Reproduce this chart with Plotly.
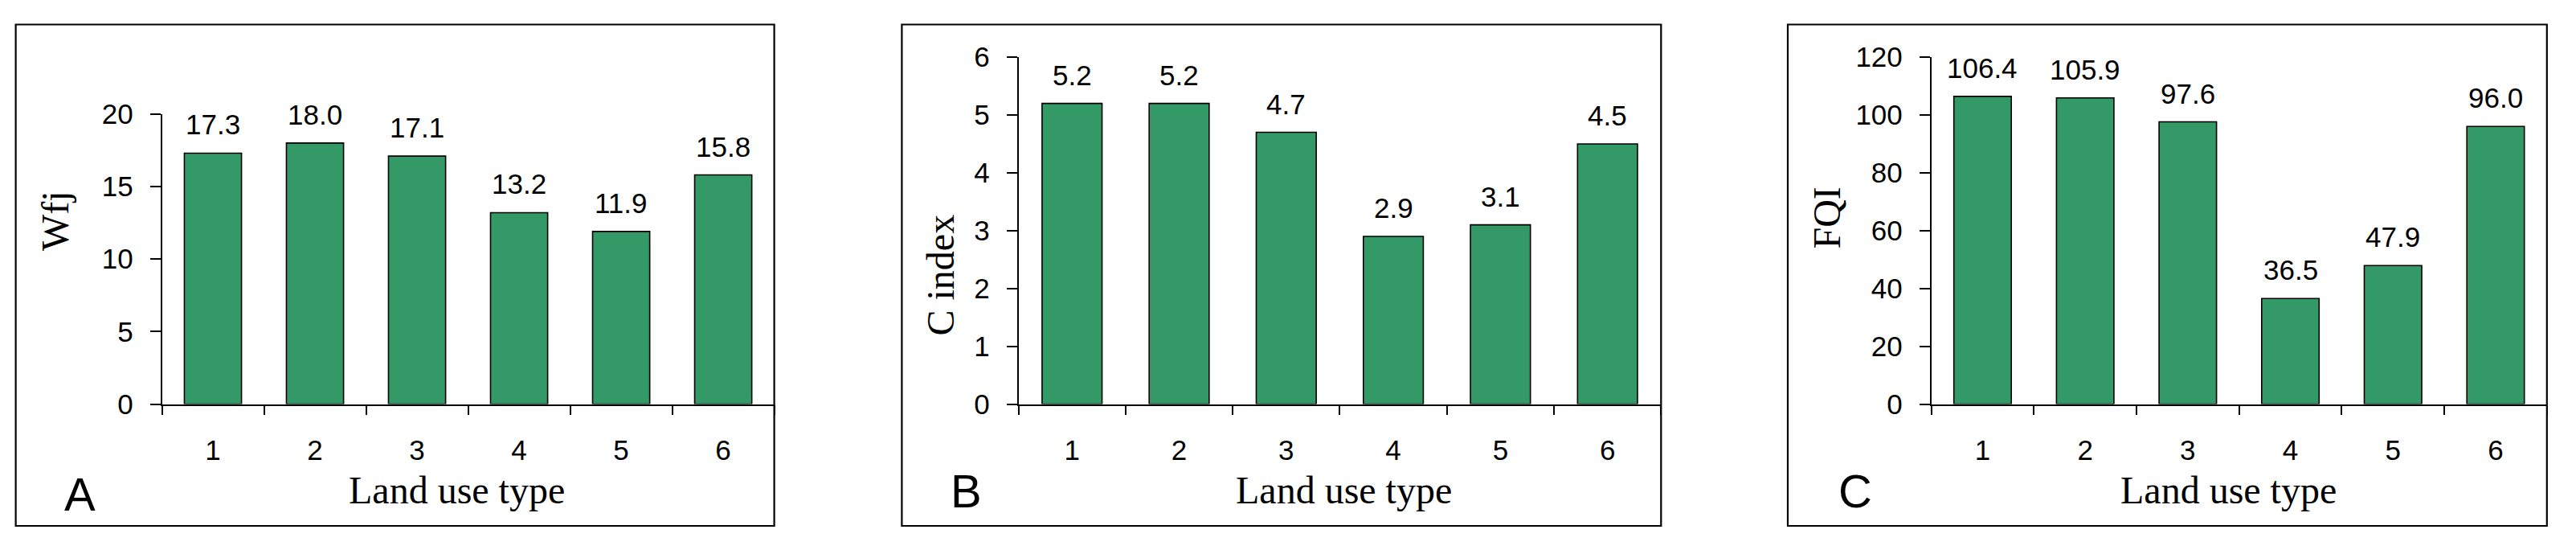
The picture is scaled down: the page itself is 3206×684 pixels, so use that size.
import plotly.graph_objects as go

# ---------------- data ----------------
categories = ["1", "2", "3", "4", "5", "6"]
wfj_values = [17.3, 18.0, 17.1, 13.2, 11.9, 15.8]
cindex_values = [5.2, 5.2, 4.7, 2.9, 3.1, 4.5]
fqi_values = [106.4, 105.9, 97.6, 36.5, 47.9, 96.0]

wfj_ticks = [0, 5, 10, 15, 20]
cindex_ticks = [0, 1, 2, 3, 4, 5, 6]
fqi_ticks = [0, 20, 40, 60, 80, 100, 120]

y_titles = ["Wfj", "C index", "FQI"]
x_title = "Land use type"
panel_letters = ["A", "B", "C"]

# ---------------- layout geometry (pixels) ----------------
W, H = 3206, 684
BAR_COLOR = "#339966"
SANS = "Liberation Sans, Arial, sans-serif"
SERIF = "Liberation Serif, Times New Roman, serif"


def px(x):
    return x / W


def py(y):
    return 1 - y / H


panels = [
    dict(vals=wfj_values, ticks=wfj_ticks, rng=[0, 20],
         box=(19.6, 30.5, 963.6, 654.0), plot=(201.5, 141.8, 963.6, 502.5),
         ytitle_xy=(68, 275), xtitle_xy=(568, 609), letter_xy=(99.5, 614)),
    dict(vals=cindex_values, ticks=cindex_ticks, rng=[0, 6],
         box=(1122.4, 30.5, 2067.3, 654.0), plot=(1267.6, 71.1, 2067.3, 502.5),
         ytitle_xy=(1170, 342.5), xtitle_xy=(1672, 609), letter_xy=(1202, 610)),
    dict(vals=fqi_values, ticks=fqi_ticks, rng=[0, 120],
         box=(2225.0, 30.5, 3169.8, 654.0), plot=(2403.6, 71.0, 3169.8, 502.5),
         ytitle_xy=(2273, 271.5), xtitle_xy=(2773, 609), letter_xy=(2309, 610)),
]

fig = go.Figure()
annotations = []
shapes = []
layout_axes = {}

for i, p in enumerate(panels):
    n = "" if i == 0 else str(i + 1)
    xa, ya = "x" + n, "y" + n
    fig.add_trace(go.Bar(
        x=categories, y=p["vals"], xaxis=xa, yaxis=ya,
        marker=dict(color=BAR_COLOR, line=dict(color="black", width=1.6)),
        showlegend=False, hoverinfo="x+y",
    ))
    x0, y0, x1, y1 = p["plot"]
    layout_axes["xaxis" + n] = dict(
        domain=[px(x0), px(x1)], anchor=ya, type="category",
        categoryorder="array", categoryarray=categories,
        showline=True, linecolor="black", linewidth=1.6,
        ticks="outside", ticklen=12, tickwidth=1.6, tickcolor="black",
        tickson="boundaries", showgrid=False, zeroline=False,
        tickfont=dict(family=SANS, size=35, color="black"),
        ticklabelstandoff=26, fixedrange=True, automargin=False,
    )
    layout_axes["yaxis" + n] = dict(
        domain=[py(y1), py(y0)], anchor=xa, range=p["rng"],
        tickvals=p["ticks"], showline=True, linecolor="black", linewidth=1.6,
        ticks="outside", ticklen=13, tickwidth=1.6, tickcolor="black",
        showgrid=False, zeroline=False,
        tickfont=dict(family=SANS, size=35, color="black"),
        ticklabelstandoff=14, fixedrange=True, automargin=False,
    )
    # value labels above bars (x given as category index on the category axis)
    for j, v in enumerate(p["vals"]):
        annotations.append(dict(
            x=j, y=v, xref=xa, yref=ya, text=f"{v:.1f}", showarrow=False,
            yanchor="bottom", xanchor="center", yshift=14,
            font=dict(family=SANS, size=35, color="black"),
        ))
    # y title
    tx, ty = p["ytitle_xy"]
    annotations.append(dict(
        x=px(tx), y=py(ty), xref="paper", yref="paper", text=y_titles[i],
        textangle=-90, showarrow=False, xanchor="center", yanchor="middle",
        font=dict(family=SERIF, size=48, color="black"),
    ))
    # x title
    tx, ty = p["xtitle_xy"]
    annotations.append(dict(
        x=px(tx), y=py(ty), xref="paper", yref="paper", text=x_title,
        showarrow=False, xanchor="center", yanchor="middle",
        font=dict(family=SERIF, size=48, color="black"),
    ))
    # panel letter
    tx, ty = p["letter_xy"]
    annotations.append(dict(
        x=px(tx), y=py(ty), xref="paper", yref="paper", text=panel_letters[i],
        showarrow=False, xanchor="center", yanchor="middle",
        font=dict(family=SANS, size=58, color="black"),
    ))
    # frame
    bx0, by0, bx1, by1 = p["box"]
    shapes.append(dict(
        type="rect", xref="paper", yref="paper",
        x0=px(bx0), x1=px(bx1), y0=py(by1), y1=py(by0),
        line=dict(color="black", width=2.2), fillcolor="rgba(0,0,0,0)",
        layer="above",
    ))

fig.update_layout(
    template="none",
    width=W, height=H,
    margin=dict(l=0, r=0, t=0, b=0, pad=0, autoexpand=False),
    paper_bgcolor="white", plot_bgcolor="white",
    bargap=0.44,
    annotations=annotations, shapes=shapes,
    **layout_axes,
)

fig.write_html(
    "out.html",
    config={"displayModeBar": False},
    post_script="document.body.style.margin='0';document.body.style.overflow='hidden';",
)
